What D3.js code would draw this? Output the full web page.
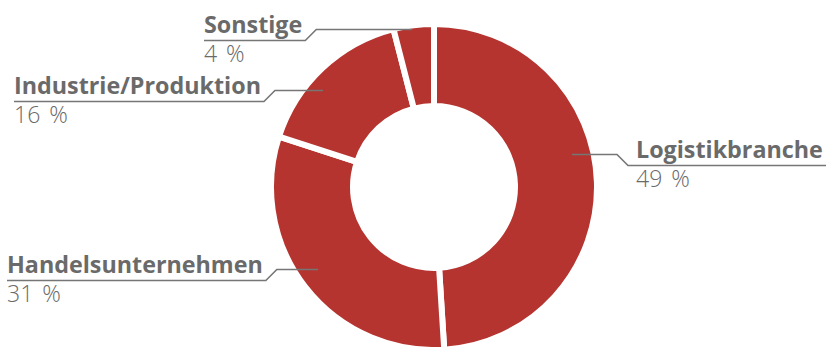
<!DOCTYPE html>
<html>
<head>
<meta charset="utf-8">
<script src="https://cdn.jsdelivr.net/npm/d3@7"></script>
<style>
  body { margin: 0; background: #fff; }
  svg { display: block; }
  text { font-family: "Open Sans", "Noto Sans", sans-serif; fill: #6a6a6a; }
</style>
</head>
<body>
<script>
(function (d3) {
  "use strict";

  /***** Data *****/
  var categories = ["Logistikbranche", "Handelsunternehmen", "Industrie/Produktion", "Sonstige"];
  var shares = [49, 31, 16, 4];

  /***** Label layout (text anchor, baseline, leader end x) *****/
  var labelX = [636, 7, 14, 204];
  var labelY = [158, 273, 94, 33];
  var leaderEndX = [572, 318, 323, 412];
  var labelSide = ["right", "left", "left", "left"];

  /***** Configuration *****/
  var width = 826, height = 347;
  var cx = 434, cy = 187;
  var outerR = 163, innerR = 81;
  var red = "#b5342f";
  var grey = "#767676";

  var svg = d3.select("body").append("svg")
      .attr("width", width)
      .attr("height", height);

  var data = categories.map(function (c, i) {
    return { name: c, value: shares[i], i: i };
  });

  var pie = d3.pie()
      .sort(null)
      .value(function (d) { return d.value; });

  var arc = d3.arc()
      .innerRadius(innerR)
      .outerRadius(outerR);

  var donut = svg.append("g")
      .attr("transform", "translate(" + cx + "," + cy + ")");

  donut.selectAll("path")
      .data(pie(data))
      .enter().append("path")
      .attr("d", arc)
      .attr("fill", red)
      .attr("stroke", "#fff")
      .attr("stroke-width", 6)
      .attr("stroke-linejoin", "miter");

  /***** Labels *****/
  var labels = svg.append("g");

  data.forEach(function (d, i) {
    var g = labels.append("g");
    var tx = labelX[i], ty = labelY[i];

    var name = g.append("text")
        .attr("x", tx)
        .attr("y", ty)
        .attr("font-size", 23.3)
        .attr("font-weight", 700)
        .text(d.name);

    g.append("text")
        .attr("x", tx)
        .attr("y", ty + 29)
        .attr("font-size", 23)
        .attr("font-weight", 300)
        .attr("word-spacing", 3)
        .text(d.value + " %");

    var w = name.node().getComputedTextLength();
    var uy = ty + 7.5;
    var pts;
    if (labelSide[i] === "left") {
      var x0 = tx, x1 = tx + w + 3;
      pts = [[x0, uy], [x1, uy], [x1 + 11, uy - 11], [leaderEndX[i], uy - 11]];
    } else {
      var xs = tx - 8;
      pts = [[width, uy], [xs, uy], [xs - 11, uy - 11], [leaderEndX[i], uy - 11]];
    }

    g.append("path")
        .attr("d", d3.line()(pts))
        .attr("fill", "none")
        .attr("stroke", grey)
        .attr("stroke-width", 1.6);
  });

})(d3);
</script>
</body>
</html>
